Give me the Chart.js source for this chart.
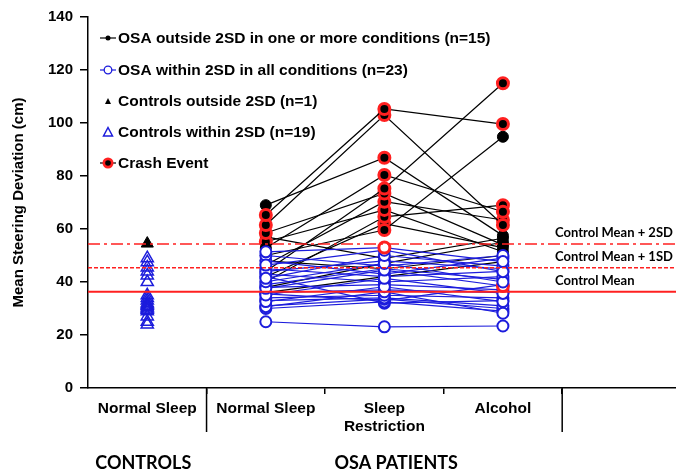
<!DOCTYPE html>
<html>
<head>
<meta charset="utf-8">
<script src="https://cdn.jsdelivr.net/npm/chart.js@4.4.0/dist/chart.umd.min.js"></script>
<style>
  html, body { margin: 0; padding: 0; background: #fff; }
  #wrap { width: 676px; height: 472px; }
</style>
</head>
<body>
<div id="wrap"><canvas id="myChart" width="676" height="472"></canvas></div>
<script>
// categories on the x axis (index 0 = controls, 1..3 = OSA conditions)
const conditionLabels = ["Normal Sleep", "Normal Sleep", ["Sleep", "Restriction"], "Alcohol"];
const groupLabels = ["CONTROLS", "OSA PATIENTS"];
const yTitle = "Mean Steering Deviation (cm)";

// controls, normal sleep
const controlsOutside = [54.5];
const controlsWithin = [49, 47.5, 45.5, 44, 42.5, 40, 35, 34, 33, 32, 31.5, 31, 30.5, 30, 29.5, 29, 27, 25, 24];

// OSA outside 2SD in one or more conditions (n=15)
const outsideNS = [65.3, 61.5, 69, 52.8, 44, 58.5, 46.4, 55.2, 40.1, 50, 57, 42, 38, 48, 36];
const outsideSR = [105.3, 103, 86.9, 80.4, 75.3, 73.4, 70.3, 67.2, 64.6, 59.6, 48.9, 62, 47, 45, 42];
const outsideAL = [99.6, 61.5, 57.5, 66.5, 115, 54, 63.4, 51.4, 69, 94.8, 56.5, 53, 55, 50, 47.7];
const outsideCrashNS = [1, 1, 0, 0, 0, 1, 0, 1, 0, 0, 0, 0, 0, 0, 0];
const outsideCrashSR = [1, 1, 1, 1, 1, 1, 1, 1, 1, 1, 0, 1, 0, 0, 0];
const outsideCrashAL = [1, 1, 0, 1, 1, 0, 1, 0, 1, 0, 0, 0, 0, 0, 0];

// OSA within 2SD in all conditions (n=23)
const withinNS = [25, 51.4, 46.4, 41.4, 40.1, 37.6, 35.1, 32.6, 30.7, 50, 48, 44, 43, 39, 38, 36, 34, 33, 31, 30, 45, 42, 35.5];
const withinSR = [23.1, 53, 52, 50, 47, 44.5, 41.4, 38.2, 36.3, 46, 43, 48, 40, 45, 39, 37, 35, 34, 33.5, 32.5, 42, 32, 33];
const withinAL = [23.4, 47.7, 43.9, 46, 40, 38.5, 35.7, 32.6, 28.2, 50, 49, 45, 42, 41, 37, 36, 34, 31, 30, 29, 44, 33, 39];
const withinCrashNS = [0, 0, 0, 0, 0, 0, 0, 0, 0, 0, 0, 0, 0, 0, 0, 0, 0, 0, 0, 0, 0, 0, 0];
const withinCrashSR = [0, 1, 0, 0, 0, 0, 0, 0, 0, 0, 0, 0, 0, 0, 0, 0, 0, 0, 0, 0, 0, 0, 0];
const withinCrashAL = [0, 0, 0, 0, 0, 1, 0, 0, 0, 0, 0, 0, 0, 0, 0, 0, 0, 0, 0, 0, 0, 0, 0];

// control reference lines
const refValues = [54.3, 45.4, 36.3];
const refLabels = ["Control Mean + 2SD", "Control Mean + 1SD", "Control Mean"];

const legendLabels = [
  "OSA outside 2SD in one or more conditions (n=15)",
  "OSA within 2SD in all conditions (n=23)",
  "Controls outside 2SD (n=1)",
  "Controls within 2SD (n=19)",
  "Crash Event",
];

const BLUE = "#1c1cdc";
const RED = "#ff2020";
const FONT = "'Liberation Sans', Arial";

function patientDataset(ns, sr, al, crash, outside) {
  return {
    data: [{ x: 1, y: ns }, { x: 2, y: sr }, { x: 3, y: al }],
    borderColor: outside ? "#000" : BLUE,
    borderWidth: 1.2,
    pointRadius: 5.5,
    pointBackgroundColor: outside ? "#000" : "#fff",
    pointBorderColor: crash.map((c) => (c ? RED : outside ? "#000" : BLUE)),
    pointBorderWidth: crash.map((c) => (c ? 3 : outside ? 1 : 2)),
    tension: 0,
  };
}

let datasets = [];
// controls on top
datasets.push({
  data: controlsOutside.map((v) => ({ x: 0, y: v })),
  showLine: false,
  pointStyle: "triangle",
  pointRadius: 7,
  pointBackgroundColor: "#000",
  pointBorderColor: "#000",
  pointBorderWidth: 1,
});
datasets.push({
  data: controlsWithin.map((v) => ({ x: 0, y: v })),
  showLine: false,
  pointStyle: "triangle",
  pointRadius: 7,
  pointBackgroundColor: "rgba(255,255,255,0)",
  pointBorderColor: BLUE,
  pointBorderWidth: 1.5,
});
for (let i = 0; i < withinNS.length; i++) {
  datasets.push(
    patientDataset(withinNS[i], withinSR[i], withinAL[i],
      [withinCrashNS[i], withinCrashSR[i], withinCrashAL[i]], false)
  );
}
for (let i = 0; i < outsideNS.length; i++) {
  datasets.push(
    patientDataset(outsideNS[i], outsideSR[i], outsideAL[i],
      [outsideCrashNS[i], outsideCrashSR[i], outsideCrashAL[i]], true)
  );
}

const decorPlugin = {
  id: "decor",
  afterDatasetsDraw(chart) {
    const ctx = chart.ctx;
    const y = chart.scales.y;
    const area = chart.chartArea;
    const dashes = [[12, 4, 3, 4], [4, 2], []];
    const widths = [1.5, 1.5, 2];
    ctx.save();
    ctx.strokeStyle = RED;
    for (let i = 0; i < refValues.length; i++) {
      const py = y.getPixelForValue(refValues[i]);
      ctx.lineWidth = widths[i];
      ctx.setLineDash(dashes[i]);
      ctx.beginPath();
      ctx.moveTo(area.left, py);
      ctx.lineTo(area.right, py);
      ctx.stroke();
    }
    ctx.setLineDash([]);
    ctx.fillStyle = "#000";
    ctx.font = "bold 13px Lato";
    ctx.textAlign = "left";
    ctx.textBaseline = "middle";
    for (let i = 0; i < refValues.length; i++) {
      const py = y.getPixelForValue(refValues[i]);
      ctx.fillText(refLabels[i], 555, py - 11);
    }
    ctx.restore();
  },
  afterDraw(chart) {
    const ctx = chart.ctx;
    const x = chart.scales.x;
    const area = chart.chartArea;
    ctx.save();
    // long separators below the axis
    ctx.strokeStyle = "#000";
    ctx.lineWidth = 1.5;
    [0.5, 3.5].forEach((v) => {
      const px = x.getPixelForValue(v);
      ctx.beginPath();
      ctx.moveTo(px, area.bottom);
      ctx.lineTo(px, area.bottom + 44);
      ctx.stroke();
    });
    // group labels
    ctx.fillStyle = "#000";
    ctx.font = "bold 18px Lato";
    ctx.textAlign = "center";
    ctx.textBaseline = "middle";
    ctx.fillText(groupLabels[0], x.getPixelForValue(0) - 4, 463);
    ctx.fillText(groupLabels[1], x.getPixelForValue(2.1), 463);

    // legend
    const rowY = [38, 70, 101, 132, 163];
    const mx = 108;
    for (let i = 0; i < legendLabels.length; i++) {
      const yy = rowY[i];
      ctx.lineWidth = 1.2;
      if (i === 0 || i === 1 || i === 4) {
        ctx.strokeStyle = i === 1 ? BLUE : "#000";
        ctx.beginPath();
        ctx.moveTo(mx - 8, yy);
        ctx.lineTo(mx + 8, yy);
        ctx.stroke();
      }
      ctx.beginPath();
      if (i === 0) {
        ctx.fillStyle = "#000";
        ctx.arc(mx, yy, 2.5, 0, Math.PI * 2);
        ctx.fill();
      } else if (i === 1) {
        ctx.fillStyle = "#fff";
        ctx.strokeStyle = BLUE;
        ctx.lineWidth = 1.3;
        ctx.arc(mx, yy, 3.8, 0, Math.PI * 2);
        ctx.fill();
        ctx.stroke();
      } else if (i === 2) {
        ctx.fillStyle = "#000";
        ctx.moveTo(mx - 3, yy + 3);
        ctx.lineTo(mx + 3, yy + 3);
        ctx.lineTo(mx, yy - 3);
        ctx.closePath();
        ctx.fill();
      } else if (i === 3) {
        ctx.strokeStyle = BLUE;
        ctx.lineWidth = 1.5;
        ctx.moveTo(mx - 4.5, yy + 4);
        ctx.lineTo(mx + 4.5, yy + 4);
        ctx.lineTo(mx, yy - 4.5);
        ctx.closePath();
        ctx.stroke();
      } else {
        ctx.fillStyle = RED;
        ctx.arc(mx, yy, 5.5, 0, Math.PI * 2);
        ctx.fill();
        ctx.beginPath();
        ctx.fillStyle = "#000";
        ctx.arc(mx, yy, 2.8, 0, Math.PI * 2);
        ctx.fill();
      }
      ctx.fillStyle = "#000";
      ctx.font = "bold 15.5px " + FONT;
      ctx.textAlign = "left";
      ctx.textBaseline = "middle";
      ctx.fillText(legendLabels[i], 118, yy + 1);
    }
    ctx.restore();
  },
};

let myChart = document.getElementById("myChart");

let myGraph = new Chart(myChart, {
  type: "line",
  data: { datasets: datasets },
  plugins: [decorPlugin],
  options: {
    responsive: false,
    animation: false,
    layout: { autoPadding: false, padding: { top: 17, right: 0, bottom: 0, left: 0 } },
    plugins: {
      legend: { display: false },
      tooltip: { enabled: false },
    },
    scales: {
      x: {
        type: "linear",
        min: -0.5,
        max: 4.46,
        afterFit: (scale) => { scale.height = 84; },
        afterBuildTicks: (scale) => {
          scale.ticks = [0, 0.5, 1, 1.5, 2, 2.5, 3, 3.5].map((v) => ({ value: v }));
        },
        border: { display: true, color: "#000", width: 1.5 },
        grid: {
          drawOnChartArea: false,
          drawTicks: true,
          tickLength: 6,
          color: (c) => (c.tick && c.tick.value % 1 !== 0 ? "#000" : "rgba(0,0,0,0)"),
          tickColor: (c) => (c.tick && c.tick.value % 1 !== 0 ? "#000" : "rgba(0,0,0,0)"),
          lineWidth: 1.5,
        },
        ticks: {
          autoSkip: false,
          maxRotation: 0,
          padding: 6,
          color: "#000",
          font: { family: FONT, size: 15.5, weight: "bold", lineHeight: 1.15 },
          callback: (value) => (value % 1 === 0 ? conditionLabels[value] : ""),
        },
      },
      y: {
        min: 0,
        max: 140,
        afterFit: (scale) => { scale.width = 88; },
        border: { display: true, color: "#000", width: 1.5 },
        grid: {
          drawOnChartArea: false,
          tickLength: 8,
          color: "#000",
          lineWidth: 1.5,
        },
        ticks: {
          stepSize: 20,
          padding: 7,
          color: "#000",
          font: { family: FONT, size: 15, weight: "bold" },
        },
        title: {
          display: true,
          text: yTitle,
          color: "#000",
          padding: { top: 10, bottom: 0 },
          font: { family: FONT, size: 15, weight: "bold" },
        },
      },
    },
  },
});
</script>
</body>
</html>
